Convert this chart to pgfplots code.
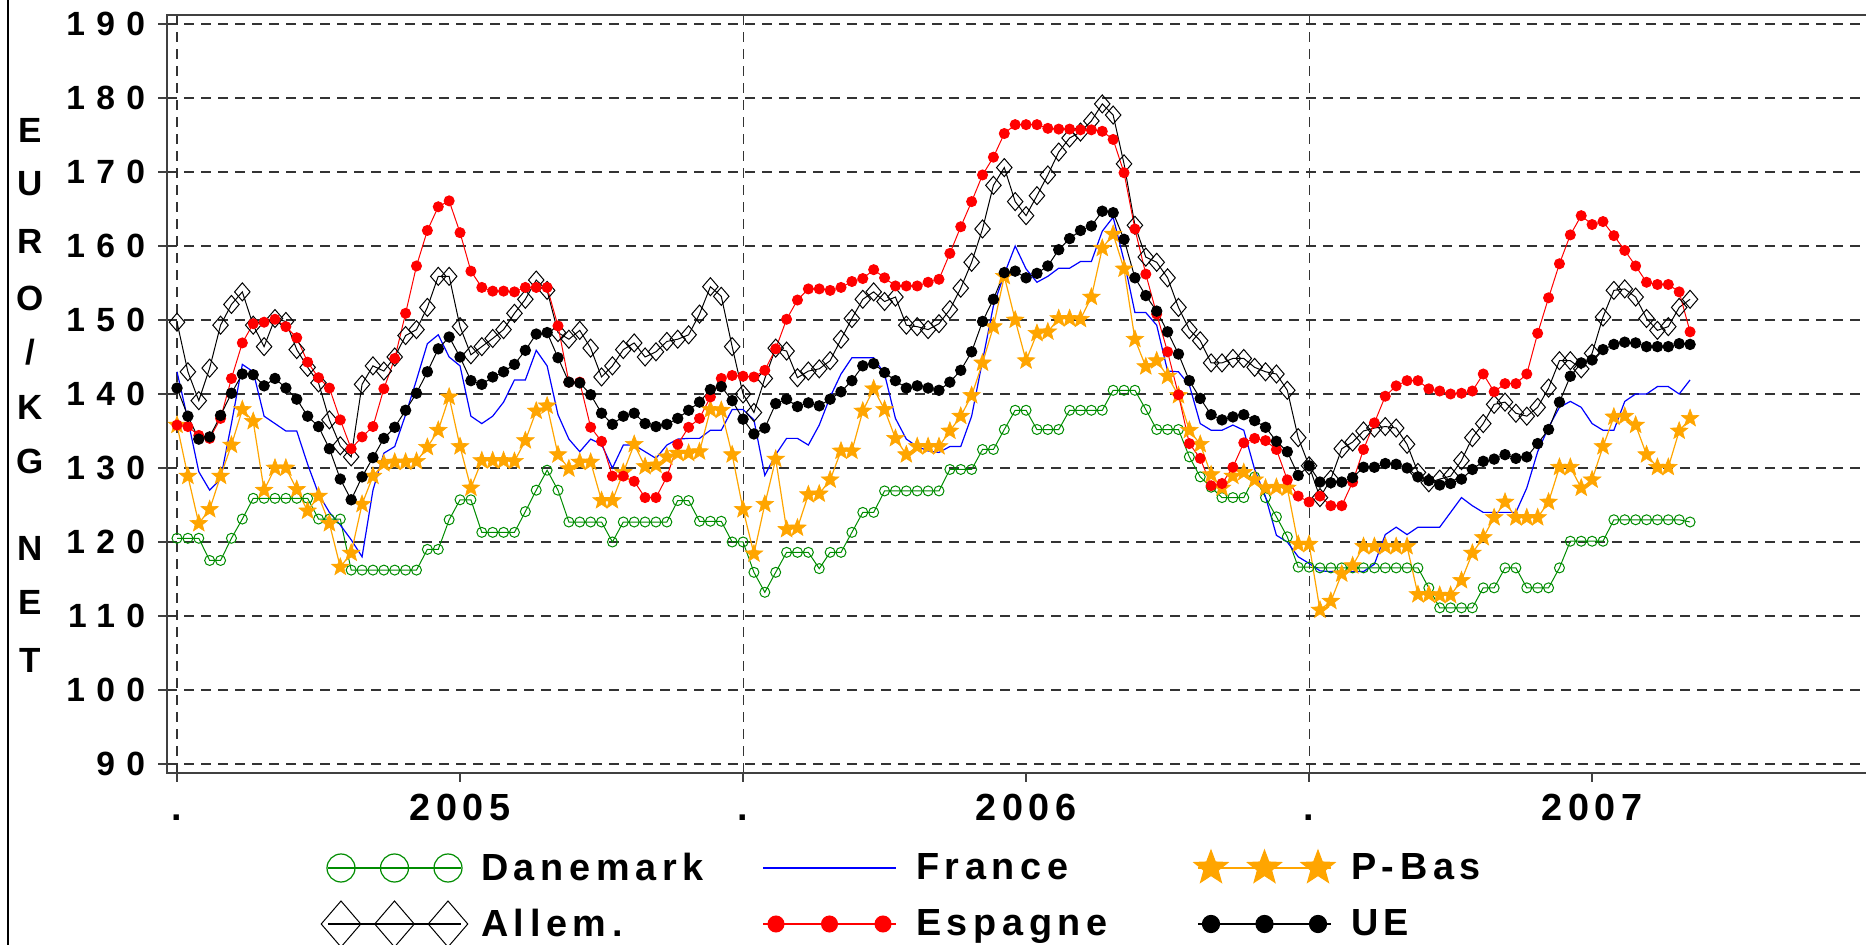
\documentclass[border=0pt]{standalone}
\usepackage{fontspec}
\setmainfont{Liberation Sans}
\newfontfamily\tickfam[LetterSpace=34]{Liberation Sans}
\newfontfamily\labfam[LetterSpace=15]{Liberation Sans}
\usepackage{pgfplots}
\usepackage{pgfplotstable}
\pgfplotsset{compat=1.18}
\definecolor{dkgreen}{RGB}{0,140,0}
\definecolor{pbor}{RGB}{255,165,0}

\pgfdeclareplotmark{fstar}{%
  \pgfpathmoveto{\pgfpointpolar{90}{\pgfplotmarksize}}%
  \pgfpathlineto{\pgfpointpolar{126}{0.42\pgfplotmarksize}}%
  \pgfpathlineto{\pgfpointpolar{162}{\pgfplotmarksize}}%
  \pgfpathlineto{\pgfpointpolar{198}{0.42\pgfplotmarksize}}%
  \pgfpathlineto{\pgfpointpolar{234}{\pgfplotmarksize}}%
  \pgfpathlineto{\pgfpointpolar{270}{0.42\pgfplotmarksize}}%
  \pgfpathlineto{\pgfpointpolar{306}{\pgfplotmarksize}}%
  \pgfpathlineto{\pgfpointpolar{342}{0.42\pgfplotmarksize}}%
  \pgfpathlineto{\pgfpointpolar{18}{\pgfplotmarksize}}%
  \pgfpathlineto{\pgfpointpolar{54}{0.42\pgfplotmarksize}}%
  \pgfpathclose\pgfusepathqfillstroke}
\pgfdeclareplotmark{sqdiamond}{%
  \pgfpathmoveto{\pgfqpoint{0pt}{\pgfplotmarksize}}%
  \pgfpathlineto{\pgfqpoint{0.86\pgfplotmarksize}{0pt}}%
  \pgfpathlineto{\pgfqpoint{0pt}{-\pgfplotmarksize}}%
  \pgfpathlineto{\pgfqpoint{-0.86\pgfplotmarksize}{0pt}}%
  \pgfpathclose\pgfusepathqstroke}

\pgfplotstableread{
w dk fr pb de es ue
0 120.5 143 135.8 149.7 135.8 140.8
1 120.5 136.5 128.9 143 135.6 137
2 120.5 129.5 122.5 139.1 134.4 133.9
3 117.5 127 124.4 143.5 134 134.2
4 117.5 128.5 128.9 149.3 136.7 137.1
5 120.5 136 133.1 152.1 142.1 140.1
6 123.1 144 137.9 153.8 146.9 142.7
7 125.9 143 136.3 149.3 149.5 142.6
8 125.9 137 127 146.4 149.7 141.1
9 125.9 136 130 150.2 150.1 142.1
10 125.9 135 130 149.8 149.1 140.8
11 125.9 135 127.1 146 147.6 139.3
12 125.9 130.5 124.2 143.6 144.3 137
13 123.1 126.5 126.2 141.5 142.2 135.6
14 123.1 124 122.5 136.5 140.8 132.6
15 123.1 122.3 116.6 133 136.5 128.5
16 116.2 120.3 118.5 131.5 132.6 125.7
17 116.2 118 125.1 141.3 134.2 128.8
18 116.2 127 128.9 143.8 135.6 131.4
19 116.2 132 130.6 143.1 140.7 134
20 116.2 132.9 130.8 145 144.8 135.5
21 116.2 137.2 130.8 147.9 150.9 137.8
22 116.2 141.9 130.9 148.7 157.3 140.1
23 119 146.8 132.8 151.7 162.1 143
24 119 148 135.1 155.9 165.3 146.1
25 123 145 139.6 155.9 166.1 147.7
26 125.7 143.8 132.9 149.1 161.8 145
27 125.7 137 127.3 145.3 156.6 141.8
28 121.3 136 131 146.4 154.4 141.3
29 121.3 137 131 147.5 153.9 142.3
30 121.3 138.9 131 148.7 153.9 143
31 121.3 141.9 130.9 150.9 153.8 144
32 124.1 141.9 133.7 152.8 154.4 145.9
33 127 145.9 137.7 155.4 154.4 148.1
34 129.7 143.8 138.4 154 154.4 148.3
35 127 137.2 131.8 148.3 149.2 144.9
36 122.7 133.9 129.9 147.4 141.6 141.6
37 122.7 132.2 130.8 148.6 141.6 141.5
38 122.7 133.9 130.8 146.2 135.5 139.9
39 122.7 133.2 125.6 142.3 133.6 137.4
40 120 130 125.6 143.8 128.9 135.9
41 122.7 133.1 129.4 146 128.9 137
42 122.7 133.1 133.2 146.9 128.2 137.4
43 122.7 132.2 130.2 145 126 136
44 122.7 131.3 130.4 145.7 126 135.6
45 122.7 133.1 131.5 147.1 128.8 135.9
46 125.6 133.9 132 147.4 133.2 136.7
47 125.6 134 132 148 135.5 137.8
48 122.8 134 132.2 150.8 136.7 138.9
49 122.8 135.1 137.9 154.5 139.6 140.6
50 122.8 135.1 137.8 153.2 142.1 141
51 120 137.9 131.8 146.4 142.5 139.1
52 120 137.9 124.4 140 142.4 136.6
53 115.9 136.5 118.4 137.5 142.3 134.6
54 113.2 129 125.1 142.1 143.2 135.4
55 115.9 131.8 131.2 146.2 146.1 138.7
56 118.6 134 121.7 145.8 150.1 139.3
57 118.6 134 121.9 142.2 152.7 138.3
58 118.6 133.1 126.4 143.1 154.2 138.8
59 116.4 135.8 126.5 143.4 154.2 138.4
60 118.6 139.6 128.4 144.5 154 139.3
61 118.6 142.7 132.3 147.4 154.4 140.3
62 121.3 144.9 132.3 150.2 155.2 141.8
63 124 144.9 137.7 152.8 155.6 143.8
64 124 144.9 140.7 153.8 156.8 144.1
65 126.9 142.7 137.9 152.5 155.7 142.9
66 126.9 136.7 134 153.1 154.6 141.8
67 126.9 133.9 131.8 149.3 154.6 140.8
68 126.9 132.9 132.9 149.1 154.6 141.1
69 126.9 132.3 132.9 148.7 155.1 140.8
70 126.9 132.1 132.9 149.5 155.5 140.5
71 129.8 132.9 135 151.4 159 141.6
72 129.8 132.9 137 154.3 162.6 143.2
73 129.8 137 139.8 157.8 166 145.7
74 132.5 144.5 144.2 162.3 169.6 149.8
75 132.5 151.9 149.1 168.2 172 152.8
76 135.2 156.2 155.9 170.6 175.2 156.4
77 137.8 160 150 166 176.4 156.6
78 137.8 156.9 144.5 164.1 176.4 155.7
79 135.2 155.1 148.2 166.8 176.4 156.3
80 135.2 155.9 148.4 169.6 175.9 157.3
81 135.2 157 150.2 172.7 175.8 159.5
82 137.8 157 150.2 174.6 175.8 161
83 137.8 157.9 150.1 175.4 175.7 162.1
84 137.8 157.9 153.1 176.9 175.7 162.7
85 137.8 162 159.7 179.2 175.5 164.7
86 140.5 163.9 161.6 177.7 174.4 164.5
87 140.5 158 156.9 171.1 169.9 160.9
88 140.5 151 147.4 162.8 162.3 155.7
89 137.9 151 143.7 158.5 156.2 153.3
90 135.2 149.3 144.5 157.8 150.8 151.2
91 135.2 143.1 142.4 155.7 145.7 148.4
92 135.2 143 139.8 151.7 139.9 145.4
93 131.5 141.2 135.1 148.7 133.3 141.8
94 128.8 136 133.2 147.2 131.3 139.4
95 127.4 135.1 129.1 144.2 127.6 137.2
96 126 135.1 127.3 144.2 127.9 136.5
97 126 135.8 128.9 144.8 130.1 136.9
98 126 135.1 129.4 144.8 133.4 137.2
99 128.8 129.8 128.4 143.6 134 136.4
100 126 126.1 127.3 143 133.7 135.5
101 123.4 120.9 127.4 142.7 132.5 133.6
102 120.7 120 127.3 140.5 128.4 132.2
103 116.6 118 119.7 134.1 126.2 129
104 116.6 117.1 119.7 130.3 125.4 130.3
105 116.5 116.1 110.8 126 126.2 128.1
106 116.5 116 112 128.5 124.9 128
107 116.5 116 115.7 132.6 124.9 128.1
108 116.5 116 116.8 133.5 128.1 128.7
109 116.5 116 119.4 135 132.5 130.1
110 116.5 117 119.4 135.4 136.1 130.1
111 116.5 121 119.4 135.6 139.7 130.6
112 116.5 122 119.4 135.4 141.1 130.5
113 116.5 121 119.4 133.2 141.8 130
114 116.5 122 112.9 129.4 141.8 128.8
115 113.8 122 112.9 128 140.7 128.3
116 111.1 122 112.8 128.5 140.4 127.7
117 111.1 124 112.8 128.9 140 127.9
118 111.1 126 114.8 131 140.1 128.5
119 111.1 124.9 118.5 134.1 140.4 129.8
120 113.8 124 120.6 136 142.7 130.9
121 113.8 124 123.3 138.6 140.3 131.2
122 116.5 124 125.4 138.9 141.4 131.8
123 116.5 124 123.3 137.4 141.4 131.3
124 113.8 127.3 123.3 137 142.7 131.5
125 113.8 132.2 123.3 138.2 148.2 133.3
126 113.8 135.5 125.4 140.8 153 135.2
127 116.5 138.2 130.1 144.5 157.6 138.9
128 120.1 139 130.1 144.5 161.5 142.4
129 120.1 138.2 127.3 143.4 164.1 144.2
130 120.1 136 128.4 145.5 162.9 144.6
131 120.1 135.1 132.9 150.4 163.3 146
132 123 135.1 136.9 154 161.4 146.7
133 123 139 137 154.2 159.4 147
134 123 140 135.8 153.1 157.3 146.9
135 123 140 131.8 150.2 155.1 146.4
136 123 141 130.1 148.6 154.8 146.4
137 123 141 130.1 149.1 154.8 146.4
138 123 140 135 151.7 153.8 146.8
139 122.7 141.9 136.7 152.8 148.4 146.7
}\data

\newcommand{\tickf}{\tickfam\bfseries\fontsize{16.8}{18}\selectfont}
\newcommand{\labf}{\labfam\bfseries\fontsize{18.9}{20}\selectfont}
\newcommand{\ylf}{\bfseries\fontsize{17.5}{18}\selectfont}

\begin{document}
\begin{tikzpicture}
\begin{axis}[
  at={(0,0)}, anchor=south west,
  scale only axis, width=851pt, height=379pt,
  xmin=-0.92, xmax=155.44, ymin=88.78, ymax=191.22,
  axis line style={black!75, line width=0.8pt},
  tick pos=left, tick align=outside, major tick length=4.5pt,
  tick style={black!75, line width=0.8pt},
  xtick={0,52,104}, xticklabels={.,.,.},
  extra x ticks={26,78,130}, extra x tick labels={2005,2006,2007},
  extra x tick style={grid=none},
  ytick={90,100,...,190},
  yticklabels={90,100,110,120,130,140,150,160,170,180,190},
  grid=major,
  major grid style={black!80, dash pattern=on 5pt off 3.5pt, line width=0.55pt},
  xticklabel style={font=\labf, anchor=base, inner sep=0pt, yshift=-19.3pt},
  yticklabel style={font=\tickf, anchor=east, inner sep=0pt, xshift=-6.2pt},
  legend columns=3,
  legend cell align=left,
  legend style={at={(0,0)}, anchor=north west, xshift=77pt, yshift=-33.5pt,
    draw=none, fill=none, inner sep=0pt, outer sep=0pt, font=\labf,
    column sep=0pt, row sep=0pt, nodes={inner sep=0pt},
    /tikz/every odd column/.append style={column sep=6.5pt}},
  legend image code/.code={
    \path[draw=none, fill=none] (-10pt,-14pt) rectangle (63.5pt,14pt);
    \draw[#1, mark=none, line width=1pt] (-6.5pt,0pt) -- (60pt,0pt);
    \draw[#1, only marks] plot coordinates {(0pt,0pt) (26.75pt,0pt) (53.5pt,0pt)};
  },
]
\addplot[dkgreen, line width=0.5pt, mark=o, mark size=2.5pt, forget plot] table[x=w,y=dk]{\data};
\addplot[blue, line width=0.6pt, forget plot] table[x=w,y=fr]{\data};
\addplot[pbor, line width=0.6pt, mark=fstar, mark size=4.6pt, mark options={fill=pbor, line width=0.3pt}, forget plot] table[x=w,y=pb]{\data};
\addplot[black, line width=0.5pt, mark=sqdiamond, mark size=4.5pt, forget plot] table[x=w,y=de]{\data};
\addplot[red, line width=0.5pt, mark=*, mark size=2.5pt, forget plot] table[x=w,y=es]{\data};
\addplot[black, line width=0.5pt, mark=*, mark size=2.6pt, forget plot] table[x=w,y=ue]{\data};

\addlegendimage{dkgreen, line width=0.6pt, mark=o, mark size=7pt}
\addlegendentry{\makebox[137.5pt][l]{Danemark}}
\addlegendimage{blue, line width=0.6pt, mark=none}
\addlegendentry{\makebox[137.5pt][l]{France}}
\addlegendimage{pbor, line width=0.6pt, mark=fstar, mark size=8.8pt, mark options={fill=pbor}}
\addlegendentry{P-Bas}
\addlegendimage{black, line width=0.5pt, mark=sqdiamond, mark size=11.5pt}
\addlegendentry{\makebox[137.5pt][l]{Allem.}}
\addlegendimage{red, line width=0.5pt, mark=*, mark size=4pt}
\addlegendentry{\makebox[137.5pt][l]{Espagne}}
\addlegendimage{black, line width=0.5pt, mark=*, mark size=4.3pt}
\addlegendentry{UE}
\end{axis}
\foreach \l/\y in {E/321.5, U/294.5, R/266, O/237.5, K/183, G/156, N/112.5, E/85.5, T/56.5}
  \node[font=\ylf] at (-68.5pt,\y pt) {\l};
\node[font=\ylf] at (-68.5pt,210.5pt) {/};
\draw[line width=1.2pt] (-79.5pt,-86pt) -- (-79.5pt,386.5pt);
\pgfresetboundingbox
\useasboundingbox (-83.5pt,-86pt) rectangle (849.5pt,386.5pt);
\end{tikzpicture}
\end{document}
